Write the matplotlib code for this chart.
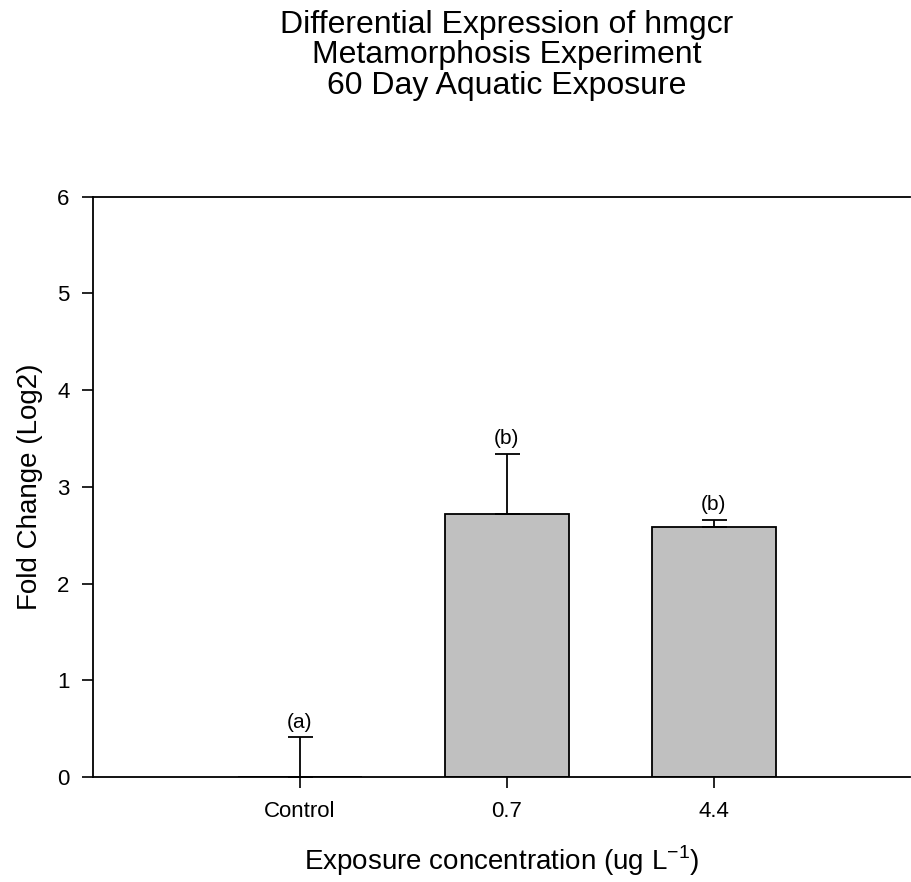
import matplotlib.pyplot as plt
import numpy as np

plt.rcParams['font.family'] = ['Liberation Sans', 'DejaVu Sans']

# data
groups = ['Control', '0.7', '4.4']
fold_change = [0.0, 2.72, 2.58]
err_up = [0.41, 0.62, 0.08]
letters = ['(a)', '(b)', '(b)']

fig = plt.figure(figsize=(9.12, 8.82), dpi=100)
ax = fig.add_axes([0.102, 0.119, 0.896, 0.658])

x = np.arange(1, len(groups) + 1)
ax.bar(x, fold_change, width=0.6, color='#c0c0c0', edgecolor='black',
       linewidth=1.3, zorder=2)
# upper error bars only
ax.errorbar(x, fold_change, yerr=[np.zeros(len(x)), err_up], fmt='none',
            ecolor='black', elinewidth=1.3, capsize=9, capthick=1.3, zorder=3)

for xi, y, e, lab in zip(x, fold_change, err_up, letters):
    ax.text(xi, y + e + 0.06, lab, ha='center', va='bottom', fontsize=15)

ax.set_xlim(0, 3.95)
ax.set_ylim(0, 6)
ax.set_xticks(x)
ax.set_xticklabels(groups)
ax.set_yticks(range(0, 7))
ax.tick_params(direction='out', length=8, width=1.2, labelsize=16, pad=9)

ax.spines['right'].set_visible(False)
for s in ['left', 'bottom', 'top']:
    ax.spines[s].set_linewidth(1.3)

ax.set_ylabel('Fold Change (Log2)', fontsize=20, labelpad=10)
ax.set_xlabel('Exposure concentration (ug L$^{\\mathregular{-1}}$)',
              fontsize=20, labelpad=16)

fig.text(0.556, 0.989, 'Differential Expression of hmgcr\nMetamorphosis Experiment\n60 Day Aquatic Exposure',
         ha='center', va='top', fontsize=23, linespacing=1.02)

fig.savefig('out.png', dpi=100)
